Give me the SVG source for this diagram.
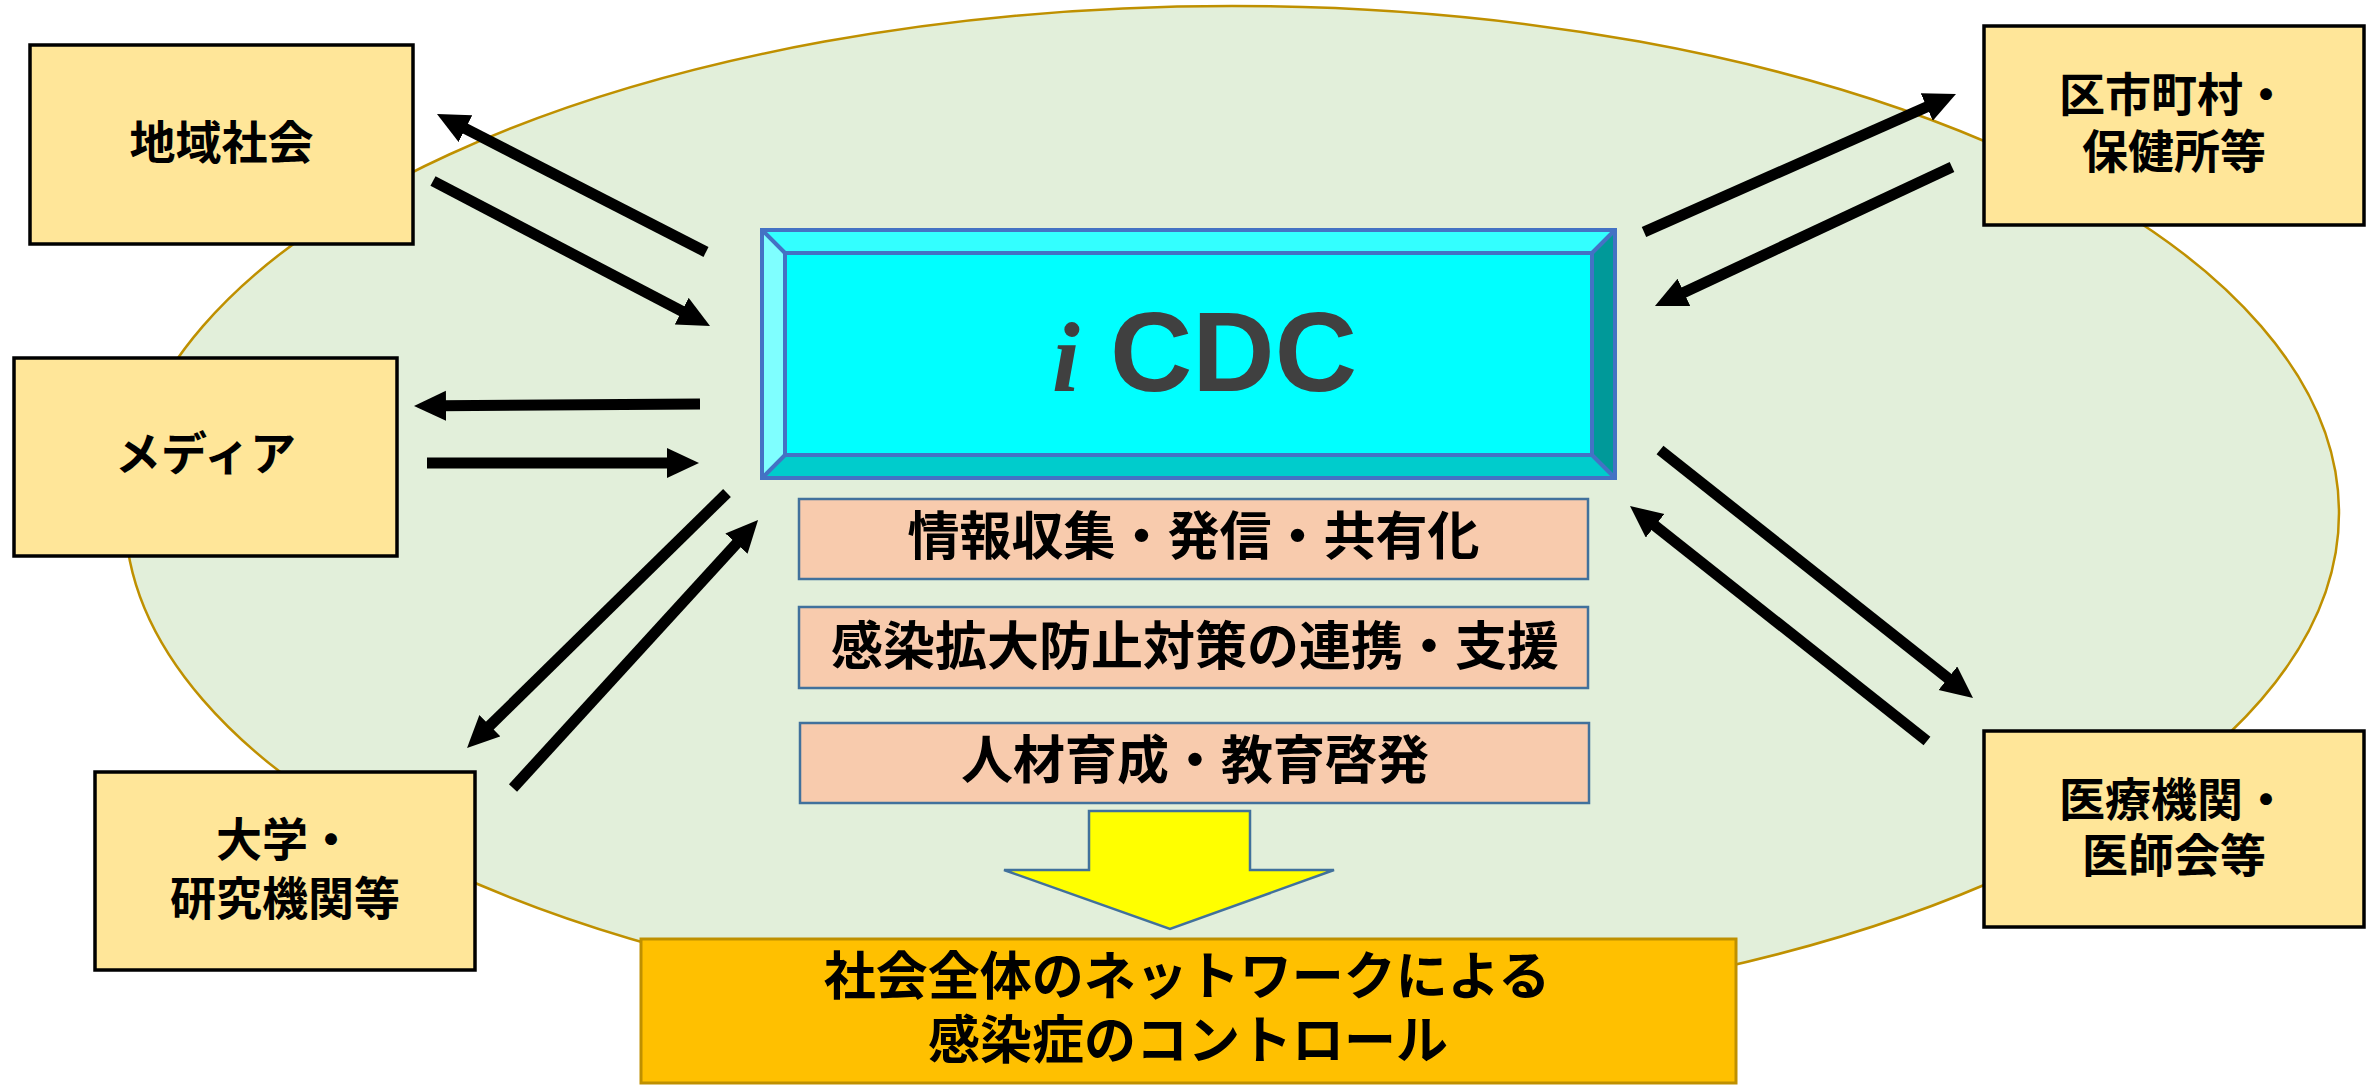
<svg xmlns="http://www.w3.org/2000/svg" width="2369" height="1088" viewBox="0 0 2369 1088">
<style>
.bg{fill:#ffffff}
.ell{fill:#E2EFDA;stroke:#BF9000;stroke-width:2.5}
.peer{fill:#FFE699;stroke:#000000;stroke-width:3.5}
.pink{fill:#F8CBAD;stroke:#41719C;stroke-width:2.5}
.jp{font-family:"Noto Sans CJK JP","Noto Sans CJK SC",sans-serif;font-weight:bold;fill:#000000;text-anchor:middle}
.t46{font-size:46px}
.t52{font-size:52px}
.arr{stroke:#000000;stroke-width:11;fill:none;marker-end:url(#ah)}
</style>
<defs>
<marker id="ah" markerUnits="userSpaceOnUse" markerWidth="34" markerHeight="32" refX="6" refY="15" orient="auto" viewBox="0 0 34 32">
<path d="M0,0 L32,15 L0,30 Z" fill="#000000"/>
</marker>
</defs>
<rect class="bg" x="0" y="0" width="2369" height="1088"/>
<g id="area">
<ellipse class="ell" cx="1232" cy="513" rx="1107" ry="507"/>
</g>
<g id="connectors">
<line class="arr" x1="706" y1="252" x2="460.1" y2="125.9"/>
<line class="arr" x1="433" y1="181" x2="687" y2="313.9"/>
<line class="arr" x1="700" y1="404" x2="440" y2="405.8"/>
<line class="arr" x1="427" y1="463" x2="673" y2="463"/>
<line class="arr" x1="727" y1="493" x2="485.6" y2="729.8"/>
<line class="arr" x1="513" y1="788" x2="740.5" y2="539.2"/>
<line class="arr" x1="1644" y1="232" x2="1932.2" y2="104.5"/>
<line class="arr" x1="1952" y1="167" x2="1678.5" y2="295"/>
<line class="arr" x1="1660" y1="450" x2="1952.6" y2="681.9"/>
<line class="arr" x1="1927" y1="741" x2="1650.4" y2="522.1"/>
</g>
<g id="chiiki">
<rect class="peer" x="30" y="45" width="383" height="199"/>
<text class="jp t46" x="221.5" y="159">地域社会</text>
</g>
<g id="media">
<rect class="peer" x="14" y="358" width="383" height="198"/>
<text class="jp t46" x="205.5" y="470">メディア</text>
</g>
<g id="daigaku">
<rect class="peer" x="95" y="772" width="380" height="198"/>
<text class="jp t46" x="285" y="856">大学・<tspan x="285" dy="59">研究機関等</tspan></text>
</g>
<g id="kushichoson">
<rect class="peer" x="1984" y="26" width="380" height="199"/>
<text class="jp t46" x="2174" y="111">区市町村・<tspan x="2174" dy="57">保健所等</tspan></text>
</g>
<g id="iryo">
<rect class="peer" x="1984" y="731" width="380" height="196"/>
<text class="jp t46" x="2174" y="816">医療機関・<tspan x="2174" dy="56">医師会等</tspan></text>
</g>
<g id="icdc">
<rect x="762" y="230" width="853" height="248" fill="#00FFFF"/>
<polygon points="762,230 1615,230 1592,253 785,253" fill="#33FFFF"/>
<polygon points="762,230 785,253 785,455 762,478" fill="#7FFFFF"/>
<polygon points="1615,230 1615,478 1592,455 1592,253" fill="#009999"/>
<polygon points="762,478 785,455 1592,455 1615,478" fill="#00CCCC"/>
<g fill="none" stroke="#4472C4" stroke-width="4">
<rect x="762" y="230" width="853" height="248"/>
<rect x="785" y="253" width="807" height="202"/>
<line x1="762" y1="230" x2="785" y2="253"/>
<line x1="1615" y1="230" x2="1592" y2="253"/>
<line x1="762" y1="478" x2="785" y2="455"/>
<line x1="1615" y1="478" x2="1592" y2="455"/>
</g>
<text x="1052" y="391" fill="#404040"><tspan font-family="Liberation Serif,serif" font-style="italic" font-weight="bold" font-size="100">i</tspan><tspan x="1110" font-family="Liberation Sans,Arial,sans-serif" font-weight="bold" font-size="114">CDC</tspan></text>
</g>
<g id="joho">
<rect class="pink" x="799" y="499" width="789" height="80"/>
<text class="jp t52" x="1193.5" y="555">情報収集・発信・共有化</text>
</g>
<g id="kansen">
<rect class="pink" x="799" y="607" width="789" height="81"/>
<text class="jp t52" x="1195" y="665">感染拡大防止対策の連携・支援</text>
</g>
<g id="jinzai">
<rect class="pink" x="800" y="723" width="789" height="80"/>
<text class="jp t52" x="1195" y="779">人材育成・教育啓発</text>
</g>
<g id="bigarrow">
<polygon points="1089,811 1250,811 1250,870 1334,870 1170,929 1004,870 1089,870" fill="#FFFF00" stroke="#41719C" stroke-width="2.5"/>
</g>
<g id="control">
<rect x="641" y="939" width="1095" height="144" fill="#FFC000" stroke="#BF9000" stroke-width="3"/>
<text class="jp t52" x="1187" y="995">社会全体のネットワークによる<tspan x="1188" dy="64">感染症のコントロール</tspan></text>
</g>
</svg>
